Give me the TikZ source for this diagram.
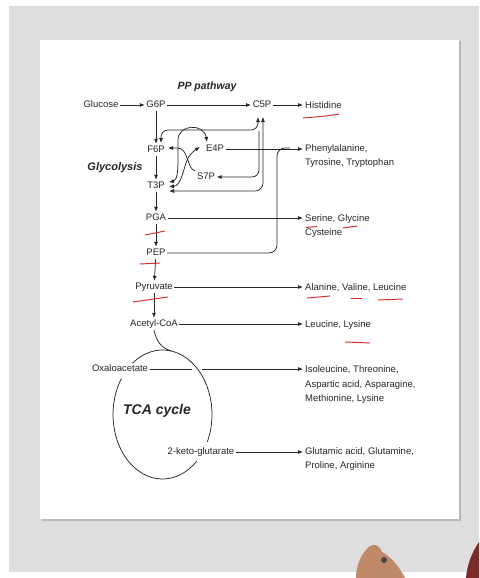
\documentclass[tikz,border=0pt]{standalone}
\usepackage{fontspec}
\setmainfont{Liberation Sans}
\usetikzlibrary{arrows.meta}
\definecolor{ink}{HTML}{262626}
\definecolor{pen}{HTML}{D42A2A}
\definecolor{bgc}{HTML}{DEDEDF}
\definecolor{skin}{HTML}{C08A6A}
\definecolor{maroonc}{HTML}{7A2A28}
\begin{document}
\begin{tikzpicture}[x=1pt,y=-1pt,
  lbl/.style={font=\fontsize{9.5}{11}\selectfont, text=ink, inner sep=1.5pt, text height=7pt, text depth=2pt},
  rt/.style={lbl, anchor=west, inner xsep=2pt},
  ttl/.style={font=\fontsize{10.5}{12}\selectfont\bfseries\itshape, text=ink},
  ln/.style={draw=ink, line width=0.75pt},
  arr/.style={ln, -{Latex[length=5pt,width=4pt]}},
  biarr/.style={ln, {Latex[length=5pt,width=4pt]}-{Latex[length=5pt,width=4pt]}},
  penmark/.style={draw=pen, line width=0.95pt, line cap=round}
]
% background and slide
\fill[white] (0,0) rectangle (479,578);
\fill[bgc] (9,6) rectangle (479,572);
\fill[gray!55] (41.5,41.5) rectangle (460.5,520.5);
\fill[white] (40,40) rectangle (459,519);
\useasboundingbox (0,0) rectangle (479,578);
% hand and sleeve
\fill[skin] (356,578) .. controls (356,565) and (362,552) .. (370,546) .. controls (375,543) and (380,546) .. (382,552) .. controls (390,556) and (399,566) .. (405,578) -- cycle;
\fill[gray!55!black] (384,560) circle (3);
\fill[maroonc] (479,542) .. controls (472,552) and (467,565) .. (466,578) -- (479,578) -- cycle;

% titles
\node[ttl] (ppp) at (207,87) {PP pathway};
\node[ttl, font=\fontsize{11}{13}\selectfont\bfseries\itshape] (gly) at (115,168) {Glycolysis};
\node[ttl, font=\fontsize{14}{16}\selectfont\bfseries\itshape] (tca) at (157,411) {TCA cycle};

% metabolites
\node[lbl] (glc) at (101,105) {Glucose};
\node[lbl] (g6p) at (156,105) {G6P};
\node[lbl] (c5p) at (262,105) {C5P};
\node[lbl] (f6p) at (156,150) {F6P};
\node[lbl] (e4p) at (215,149) {E4P};
\node[lbl] (s7p) at (206,177) {S7P};
\node[lbl] (t3p) at (156,186) {T3P};
\node[lbl] (pga) at (156,218) {PGA};
\node[lbl] (pep) at (156,253) {PEP};
\node[lbl] (pyr) at (154,287) {Pyruvate};
\node[lbl] (acoa) at (154,324) {Acetyl-CoA};
\node[lbl] (oaa) at (120,369) {Oxaloacetate};
\node[lbl] (akg) at (201,452) {2-keto-glutarate};

% amino acids
\node[rt] (his) at (303,106) {Histidine};
\node[rt] (aro1) at (303,149) {Phenylalanine,};
\node[rt] (aro2) at (303,163) {Tyrosine, Tryptophan};
\node[rt] (ser1) at (303,219) {Serine, Glycine};
\node[rt] (ser2) at (303,233) {Cysteine};
\node[rt] (ala) at (303,288) {Alanine, Valine, Leucine};
\node[rt] (leu) at (303,325) {Leucine, Lysine};
\node[rt] (asp1) at (303,370) {Isoleucine, Threonine,};
\node[rt] (asp2) at (303,385) {Aspartic acid, Asparagine,};
\node[rt] (asp3) at (303,399) {Methionine, Lysine};
\node[rt] (glu1) at (303,452) {Glutamic acid, Glutamine,};
\node[rt] (glu2) at (303,466) {Proline, Arginine};

% main chain
\draw[arr] (glc) -- (g6p);
\draw[arr] (g6p) -- (c5p);
\draw[arr] (c5p) -- (his.west |- c5p);
\draw[arr] (g6p) -- (f6p);
\draw[arr] (f6p) -- (t3p);
\draw[arr] (t3p) -- (pga);
\draw[arr] (pga) -- (pep);
\draw[arr] (pep) -- (pyr);
\draw[arr] (pyr) -- (acoa);

% to amino acids
\draw[arr] (e4p) -- (aro1.west |- e4p);
\coordinate (pepturn) at (277,148);
\coordinate (pepjoin) at (290,148);
\draw[ln, rounded corners=8pt] (pep.east) -| (pepturn) -- (pepjoin);
\draw[arr] (pga) -- (ser1.west |- pga);
\draw[arr] (pyr) -- (ala.west |- pyr);
\draw[arr] (acoa) -- (leu.west |- acoa);
\coordinate (gapA) at (192,369);
\coordinate (gapB) at (202,369);
\draw[ln] (oaa.east) -- (gapA);
\draw[arr] (gapB) -- (asp1.west |- gapB);
\draw[arr] (akg) -- (glu1.west |- akg);

% pentose phosphate exchanges
\coordinate (c5pa) at (258,117);
\coordinate (c5pb) at (263,117);
\coordinate (f6ptop) at (161,143);
\coordinate (t3pa) at (169,182.5);
\coordinate (t3pb) at (169,186.5);
\coordinate (t3pc) at (169,191);
\draw[biarr, rounded corners=7pt] (f6ptop) -- (161,130) -- (258,130) -- (c5pa);
\draw[arr, rounded corners=7pt] (259,131) -- (259,177) -- (s7p.east);
\draw[biarr, rounded corners=8pt] (c5pb) -- (263,191) -- (t3pc);
\draw[biarr] (t3pa) .. controls (177,180) and (178,172) .. (178,160) -- (178,140) .. controls (178,124) and (204,123) .. (207,142);
\draw[biarr] (t3pb) .. controls (182,186) and (184,165) .. (188,158) .. controls (191,153) and (195,150) .. (200,147);
\draw[arr] (s7p.north west) .. controls (187,170) and (189,149) .. (178,148) -- (168,148);

% TCA cycle
\coordinate (tcaentry) at (171,351);
\draw[ln] (acoa.south) .. controls (157,344) and (163,348) .. (tcaentry);
\draw[ln] (196.89,460.90) arc[start angle=-46, end angle=-214, x radius=49.5pt, y radius=64.5pt];
\draw[ln] (132.71,362.99) arc[start angle=127, end angle=-25, x radius=49.5pt, y radius=64.5pt];

% red pen marks
\draw[penmark] (303,118) .. controls (316,117) and (328,116) .. (339,114);
\draw[penmark] (306,227.5) -- (317,226.5);
\draw[penmark] (343,228) -- (357,226);
\draw[penmark] (145,235) -- (165,231);
\draw[penmark] (140,264) -- (160,263);
\draw[penmark] (133,302) -- (168,297);
\draw[penmark] (307,298) -- (330,296);
\draw[penmark] (351,298) -- (362,298);
\draw[penmark] (378,300) -- (403,299);
\draw[penmark] (345,342) -- (370,343);
\end{tikzpicture}
\end{document}
